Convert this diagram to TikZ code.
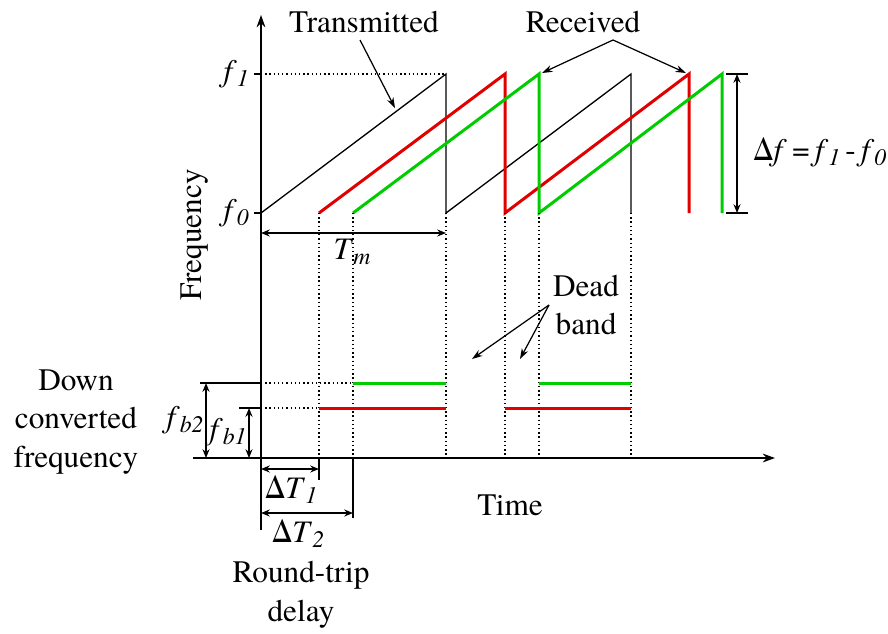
\documentclass[tikz,border=0pt]{standalone}
\usepackage{fontspec}
\setmainfont{TeX Gyre Termes}
\usetikzlibrary{arrows.meta, calc}
\definecolor{sigred}{RGB}{225,0,0}
\definecolor{siggreen}{RGB}{0,205,0}
% italic symbol with a lowered italic index
\newcommand{\lowidx}[2]{\textit{#1}\raisebox{-0.35ex}{\fontsize{13.5}{14}\selectfont\textit{#2}}}

\begin{document}
\begin{tikzpicture}[x=0.02cm, y=-0.02cm,
  every node/.style={font=\fontsize{17.8}{22}\selectfont},
  axis/.style={line width=0.9pt, -{Stealth[length=7pt, width=5pt]}},
  tx/.style={line width=0.75pt},
  rxa/.style={sigred, line width=1.7pt},
  rxb/.style={siggreen, line width=1.7pt},
  guide/.style={dash pattern=on 0.8pt off 1.6pt, line width=0.7pt},
  dim/.style={line width=0.7pt, {Stealth[length=5pt, width=4pt]}-{Stealth[length=5pt, width=4pt]}},
  pointer/.style={line width=0.7pt, -{Stealth[length=6pt, width=4pt]}}]
  \useasboundingbox (0,0) rectangle (888,633);

  % axes
  \coordinate (origin) at (261,458);
  \draw[axis] (261,530) -- (261,15);
  \draw[axis] (193,458) -- (775,458);
  \draw[line width=0.9pt] (254,74) -- (261,74) (254,213) -- (261,213);
  \node[anchor=east] (fone) at (255,74) {\lowidx{f}{1}};
  \node[anchor=east] (fzero) at (255,213) {\lowidx{f}{0}};
  \node[rotate=90] (freq) at (195,235) {Frequency};
  \node (time) at (510,505) {Time};

  % sweeps
  \draw[tx] (261,213) -- (446,74) -- (446,213) -- (631,74) -- (631,213);
  \draw[rxa] (319,213) -- (505,74) -- (505,213) -- (689,74) -- (689,213);
  \draw[rxb] (353,213) -- (539,74) -- (539,213) -- (722,74) -- (722,213);

  % guides
  \draw[guide] (261,74) -- (446,74);
  \foreach \x in {319,353,446,505,539,631}
    \draw[guide] (\x,213) -- (\x,458);
  \draw[guide] (261,383) -- (353,383) (261,408) -- (319,408);

  % beat frequencies
  \draw[rxb] (353,383) -- (446,383) (539,383) -- (631,383);
  \draw[rxa] (319,408) -- (446,408) (505,408) -- (631,408);

  % sweep period
  \draw[dim] (261,233) -- (446,233);
  \node (tm) at (352,252) {\lowidx{T}{m}};

  % bandwidth
  \draw[line width=0.9pt] (726,74) -- (748,74) (726,213) -- (748,213);
  \draw[dim] (737,74) -- (737,213);
  \node[anchor=west, inner sep=1pt] (df) at (751,152) {Δ\textit{f}\,=\,\lowidx{f}{1}\,-\,\lowidx{f}{0}};

  % beat levels
  \draw[line width=0.7pt] (200,383) -- (261,383) (239,408) -- (261,408);
  \draw[dim] (206,383) -- (206,458);
  \draw[dim] (249,408) -- (249,458);
  \node (fbtwo) at (185,420) {\lowidx{f}{b2}};
  \node (fbone) at (228,432) {\lowidx{f}{b1}};
  \node[align=center] (downconv) at (76,422) {Down\\converted\\frequency};

  % delays
  \draw[line width=0.7pt] (319,458) -- (319,480) (353,458) -- (353,518);
  \draw[dim] (261,469) -- (319,469);
  \draw[dim] (261,513) -- (353,513);
  \node (dtone) at (291,490) {Δ\lowidx{T}{1}};
  \node (dttwo) at (298,534) {Δ\lowidx{T}{2}};
  \node[align=center] (rtd) at (301,595) {Round-trip\\delay};

  % labels with pointers
  \node (txlabel) at (364,22) {Transmitted};
  \node (rxlabel) at (583,22) {Received};
  \node[align=center] (dead) at (586,305) {Dead\\band};
  \coordinate (txstart) at (360,40);
  \coordinate (rxfork) at (613,40);
  \coordinate (deadfork) at (549,305);
  \draw[pointer] (txstart) -- (395,108);
  \draw[pointer] (rxfork) -- (542,73);
  \draw[pointer] (rxfork) -- (686,73);
  \draw[pointer] (deadfork) -- (472,359);
  \draw[pointer] (deadfork) -- (520,359);
\end{tikzpicture}
\end{document}
